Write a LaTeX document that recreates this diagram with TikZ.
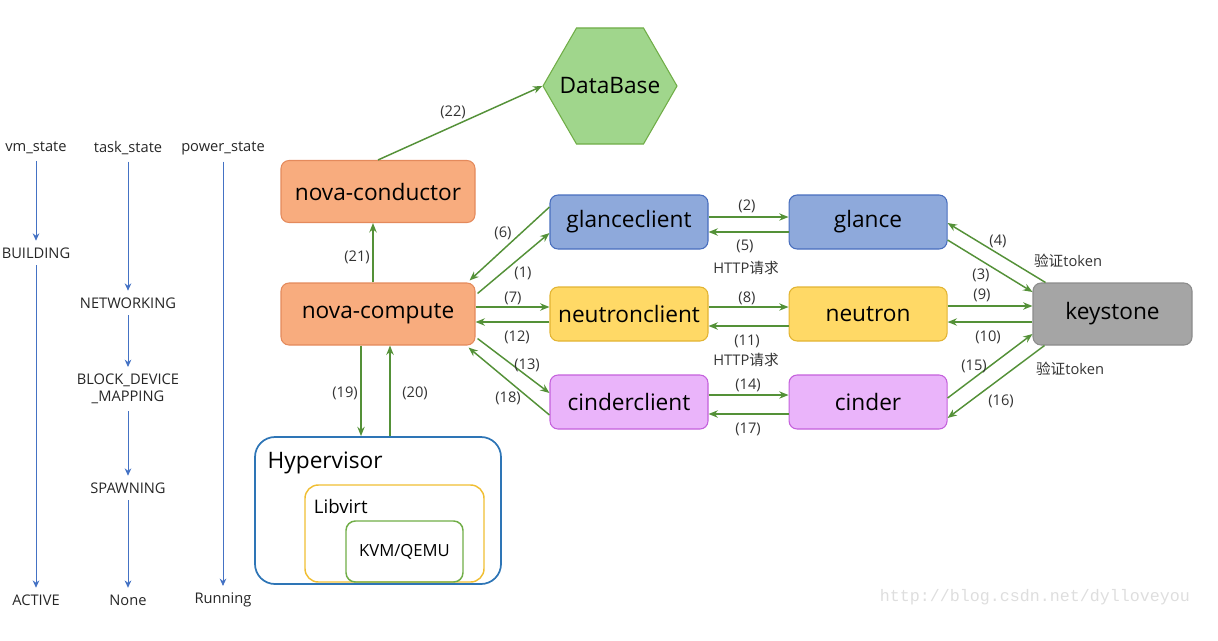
\documentclass[tikz,border=0pt]{standalone}
\usepackage{fontspec}
\setmainfont{Open Sans}
\newfontfamily\cjk{Noto Sans CJK SC}
\newfontfamily\wmfont{Liberation Mono}
\usepackage{tikz}
\usetikzlibrary{shapes.geometric, arrows.meta, positioning, calc}
\definecolor{arrowGreen}{RGB}{84,145,56}
\definecolor{stateBlue}{RGB}{68,114,196}
\definecolor{novaFg}{RGB}{228,138,92}
\definecolor{novaBg}{RGB}{248,172,126}
\definecolor{glanceFg}{RGB}{72,110,190}
\definecolor{glanceBg}{RGB}{142,169,219}
\definecolor{neutronFg}{RGB}{226,180,50}
\definecolor{neutronBg}{RGB}{255,217,102}
\definecolor{cinderFg}{RGB}{196,96,220}
\definecolor{cinderBg}{RGB}{234,180,250}
\definecolor{keyFg}{RGB}{140,140,140}
\definecolor{keyBg}{RGB}{165,165,165}
\definecolor{dbFg}{RGB}{112,173,71}
\definecolor{dbBg}{RGB}{160,214,140}
\definecolor{hyperFg}{RGB}{46,117,182}
\definecolor{libvirtFg}{RGB}{240,190,50}
\definecolor{kvmFg}{RGB}{112,173,71}
\newcommand{\boxFont}{\fontsize{17}{20}\selectfont}
\newcommand{\smallFont}{\fontsize{11}{13}\selectfont}
\tikzstyle{arrow} = [line width=1.1pt, draw=arrowGreen, -{Stealth[length=7pt,width=5.5pt]}]
\tikzstyle{statearrow} = [line width=0.7pt, draw=stateBlue, shorten <=4pt, shorten >=4pt, -{Stealth[length=5.5pt,width=5pt]}]
\tikzstyle{basic} = [rectangle, rounded corners=6pt, line width=0.8pt, minimum width=118.5pt, minimum height=40.5pt, text centered, font=\boxFont, text=black]
\tikzstyle{novastyle} = [draw=novaFg, fill=novaBg, minimum width=145.5pt, minimum height=46.5pt]
\tikzstyle{glancestyle} = [draw=glanceFg, fill=glanceBg]
\tikzstyle{neutronstyle} = [draw=neutronFg, fill=neutronBg]
\tikzstyle{cinderstyle} = [draw=cinderFg, fill=cinderBg]
\tikzstyle{keystyle} = [draw=keyFg, fill=keyBg, minimum width=119.25pt, minimum height=46.5pt]
\tikzstyle{num} = [font=\smallFont, text=black!80, inner sep=1pt]
\tikzstyle{state} = [font=\smallFont, text=black!85, inner sep=1pt, align=center]

\begin{document}
\begin{tikzpicture}[x=0.75pt, y=-0.75pt]
\useasboundingbox (0,0) rectangle (1218,640);

% state columns
\node (vm) [state] at(36,148) {vm\_state};
\node (building) [state] at(36,253) {BUILDING};
\node (active) [state] at(36,600) {ACTIVE};
\node (task) [state] at(128,148) {task\_state};
\node (networking) [state] at(128,303) {NETWORKING};
\node (block) [state] at(128,389) {BLOCK\_DEVICE\\\_MAPPING};
\node (spawning) [state] at(128,488) {SPAWNING};
\node (none) [state] at(128,600) {None};
\node (power) [state] at(223,148) {power\_state};
\node (running) [state] at(223,600) {Running};
\draw [statearrow] (vm.south) -- (building.north);
\draw [statearrow] (building.south) -- (active.north);
\draw [statearrow] (task.south) -- (networking.north);
\draw [statearrow] (networking.south) -- (block.north);
\draw [statearrow] (block.south) -- (spawning.north);
\draw [statearrow] (spawning.south) -- (none.north);
\draw [statearrow] (power.south) -- (running.north);

% nova
\node (db) [regular polygon, regular polygon sides=6, minimum size=100.5pt, inner sep=0pt, draw=dbFg, fill=dbBg, line width=0.8pt] at(610,86) {};
\node (dbText) [font=\boxFont] at(db.center) {DataBase};
\node (cond) [basic, novastyle] at(378,191.5) {nova-conductor};
\node (comp) [basic, novastyle] at(378,314) {nova-compute};

% clients and services
\node (glc) [basic, glancestyle] at(629,222) {glanceclient};
\node (ntc) [basic, neutronstyle] at(629,314) {neutronclient};
\node (cc) [basic, cinderstyle] at(629,402) {cinderclient};
\node (gl) [basic, glancestyle, right=60pt of glc] {glance};
\node (nt) [basic, neutronstyle, right=60pt of ntc] {neutron};
\node (cd) [basic, cinderstyle, right=60pt of cc] {cinder};
\node (ks) [basic, keystyle] at(1112.5,314) {keystone};

% hypervisor
\node (hyper) [rectangle, rounded corners=15pt, draw=hyperFg, line width=1.3pt, minimum width=184.5pt, minimum height=110.25pt] at(378,510.5) {};
\node (hyperLabel) [anchor=west, inner sep=1pt, font=\fontsize{17}{20}\selectfont] at($(hyper.north west)+(12,27)$) {Hypervisor};
\node (libvirt) [rectangle, rounded corners=10pt, draw=libvirtFg, line width=1.1pt, minimum width=134.25pt, minimum height=72.75pt] at(394.5,533.5) {};
\node (libvirtLabel) [anchor=west, inner sep=1pt, font=\fontsize{14}{17}\selectfont] at($(libvirt.north west)+(8,22)$) {Libvirt};
\node (kvm) [rectangle, rounded corners=7pt, draw=kvmFg, line width=1.1pt, minimum width=87.75pt, minimum height=45.75pt, font=\fontsize{12.5}{15}\selectfont] at(404.5,551.5) {KVM/QEMU};

% arrows
\draw [arrow] (cond.north) -- (db.west);
\draw [arrow] ($(comp.north)+(-5,0)$) -- ($(cond.south)+(-5,0)$);
\draw [arrow] ($(comp.south)+(-17,0)$) -- ($(hyper.north)+(-17,0)$);
\draw [arrow] ($(hyper.north)+(12,0)$) -- ($(comp.south)+(12,0)$);

\draw [arrow] ($(glc.west)+(0,-15)$) -- ($(comp.north east)+(-6,-2)$);
\draw [arrow] ($(comp.north east)+(2,11)$) -- ($(glc.west)+(0,11)$);
\draw [arrow] ($(comp.east)+(0,-7)$) -- ($(ntc.west)+(0,-7)$);
\draw [arrow] ($(ntc.west)+(0,8)$) -- ($(comp.east)+(0,8)$);
\draw [arrow] ($(comp.south east)+(2,-7)$) -- ($(cc.west)+(0,-9)$);
\draw [arrow] ($(cc.west)+(0,13)$) -- ($(comp.south east)+(-7,2)$);

\draw [arrow] ($(glc.east)+(0,-5)$) -- ($(gl.west)+(0,-5)$);
\draw [arrow] ($(gl.west)+(0,10)$) -- ($(glc.east)+(0,10)$);
\draw [arrow] ($(ntc.east)+(0,-7)$) -- ($(nt.west)+(0,-7)$);
\draw [arrow] ($(nt.west)+(0,12)$) -- ($(ntc.east)+(0,12)$);
\draw [arrow] ($(cc.east)+(0,-7)$) -- ($(cd.west)+(0,-7)$);
\draw [arrow] ($(cd.west)+(0,12)$) -- ($(cc.east)+(0,12)$);

\draw [arrow] ($(ks.north west)+(13,0)$) -- ($(gl.east)+(0,1)$);
\draw [arrow] ($(gl.east)+(0,18)$) -- ($(ks.west)+(0,-22)$);
\draw [arrow] ($(nt.east)+(0,-8)$) -- ($(ks.west)+(0,-8)$);
\draw [arrow] ($(ks.west)+(0,8)$) -- ($(nt.east)+(0,8)$);
\draw [arrow] ($(cd.east)+(0,-4)$) -- ($(ks.west)+(0,20)$);
\draw [arrow] ($(ks.south west)+(12,0)$) -- ($(cd.east)+(0,16)$);

% step numbers
\node (l22) [num] at(453,112) {(22)};
\node (l21) [num] at(357,257) {(21)};
\node (l19) [num] at(345,393) {(19)};
\node (l20) [num] at(415,393) {(20)};
\node (l6) [num] at(503,233) {(6)};
\node (l1) [num] at(523,273) {(1)};
\node (l7) [num] at(513,298) {(7)};
\node (l12) [num] at(517,337) {(12)};
\node (l13) [num] at(527,365) {(13)};
\node (l18) [num] at(508,398) {(18)};
\node (l2) [num] at(747,206) {(2)};
\node (l5) [num] at(745,246) {(5)};
\node (http1) [num] at(746,268) {HTTP{\cjk 请求}};
\node (l8) [num] at(747,298) {(8)};
\node (l11) [num] at(747,341) {(11)};
\node (http2) [num] at(746,360) {HTTP{\cjk 请求}};
\node (l14) [num] at(748,385) {(14)};
\node (l17) [num] at(748,429) {(17)};
\node (l4) [num] at(998,241) {(4)};
\node (tok1) [num] at(1068,261) {{\cjk 验证}token};
\node (l3) [num] at(981,275) {(3)};
\node (l9) [num] at(982,295) {(9)};
\node (l10) [num] at(988,337) {(10)};
\node (l15) [num] at(974,366) {(15)};
\node (l16) [num] at(1001,401) {(16)};
\node (tok2) [num] at(1070,369) {{\cjk 验证}token};

\node (watermark) [font=\wmfont\fontsize{12.5}{15}\selectfont, text=black!13] at(1035,597) {http://blog.csdn.net/dylloveyou};

\end{tikzpicture}
\end{document}
